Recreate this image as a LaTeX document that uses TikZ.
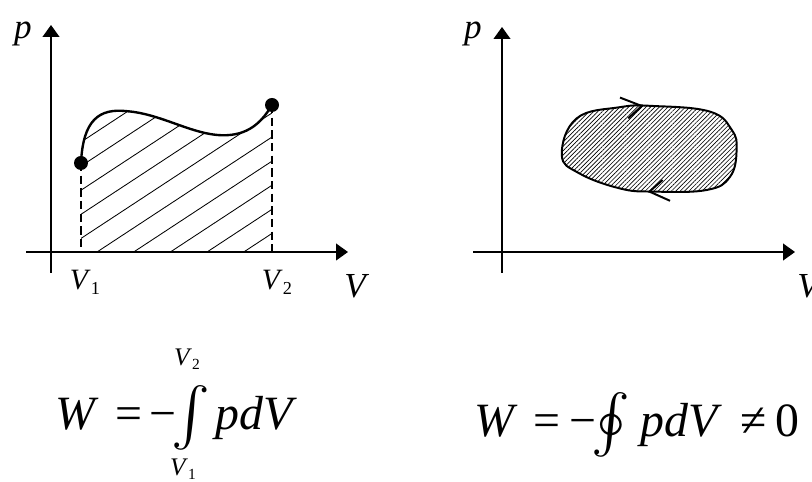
\documentclass[tikz,border=0pt]{standalone}
\usepackage{amsmath}
\usepackage{fontspec}
\setmainfont{Liberation Serif}
\usetikzlibrary{arrows.meta,patterns.meta}

% V with a small subscript: #1 index, #2 size of the index in pt
\newcommand{\Vsub}[2]{\textit{V}\raisebox{-0.35ex}{\fontsize{#2}{#2}\selectfont #1}}
% a tall integral sign: 1.62cm high, 0.5cm of it under the baseline
\newcommand{\tallsign}[1]{\raisebox{-0.5cm}{\resizebox*{!}{1.62cm}{\raisebox{\depth}{#1}}}}

\tikzset{
    axis/.style={line width=1.2pt, -{Triangle[length=3mm,width=4.2mm]}},
    axislabel/.style={font=\fontsize{25}{25}\selectfont\itshape, inner sep=0pt},
    ticklabel/.style={font=\fontsize{21}{21}\selectfont, inner sep=0pt},
    limitlabel/.style={font=\fontsize{18}{18}\selectfont, inner sep=0pt},
    formula/.style={font=\fontsize{34}{34}\selectfont, anchor=base west, inner sep=0pt},
    dot/.style={circle, fill, inner sep=0pt, minimum size=3.5mm},
    guide/.style={line width=1.1pt, dash pattern=on 6pt off 3pt},
    hatch/.style={line width=0.6pt},
    curve/.style={line width=1.7pt},
    chevron/.style={line width=1.4pt},
}

\begin{document}
\begin{tikzpicture}
    \useasboundingbox (-1.275,-5.75) rectangle (19.025,6.3);

    % Đồ thị 1: công là diện tích dưới đường cong
    \draw[axis] (0,-0.525) -- (0,5.675);
    \draw[axis] (-0.625,0) -- (7.425,0);
    \node[axislabel] (p1) at (-0.7,5.45) {p};
    \node[axislabel] (V1ax) at (7.6,-0.85) {V};

    \node[dot] (A) at (0.75,2.225) {};
    \node[dot] (B) at (5.525,3.675) {};
    \coordinate (A0) at (0.75,0);
    \coordinate (B0) at (5.525,0);

    % gạch chéo phần diện tích
    \begin{scope}
        \clip (A.center) .. controls (0.8,3.3) and (1.2,3.6) .. (1.9,3.52)
            .. controls (2.8,3.45) and (3.6,2.88) .. (4.4,2.92)
            .. controls (5.0,2.95) and (5.3,3.3) .. (B.center)
            -- (B0) -- (A0) -- cycle;
        \foreach \k in {-7,...,4}
            \draw[hatch] ({1.15+0.917*\k},0) -- ++(33.3:12);
    \end{scope}

    \draw[curve] (A.center) .. controls (0.8,3.3) and (1.2,3.6) .. (1.9,3.52)
        .. controls (2.8,3.45) and (3.6,2.88) .. (4.4,2.92)
        .. controls (5.0,2.95) and (5.3,3.3) .. (B.center);
    \draw[guide] (A.center) -- (A0);
    \draw[guide] (B.center) -- (B0);

    \node[ticklabel] (lV1) at (0.85,-0.75) {\Vsub{1}{13}};
    \node[ticklabel] (lV2) at (5.65,-0.75) {\Vsub{2}{13}};

    % Đồ thị 2: chu trình kín
    \draw[axis] (11.275,-0.525) -- (11.275,5.625);
    \draw[axis] (10.55,0) -- (18.6,0);
    \node[axislabel] (p2) at (10.55,5.45) {p};
    \node[axislabel] (V2ax) at (18.93,-0.85) {V};

    \draw[curve, line width=1.4pt, pattern={Lines[angle=45,distance=2.2pt,line width=0.45pt]}]
        plot[smooth cycle, tension=0.7] coordinates {
            (12.77,2.425) (13.14,3.34) (14.22,3.62) (15.06,3.65) (16.47,3.51)
            (17.02,3.05) (17.14,2.55) (16.975,1.88) (16.39,1.55) (15.06,1.51)
            (14.22,1.59) (13.2,1.97)};
    % chiều của chu trình
    \draw[chevron] (14.225,3.86) -- (14.77,3.65) -- (14.43,3.34);
    \draw[chevron] (15.475,1.28) -- (14.96,1.51) -- (15.29,1.8);

    % Công thức 1
    \node[formula] (WL)   at (0.1,-4.45)   {\textit{W}};
    \node[formula] (eqL)  at (1.6,-4.45)   {=};
    \node[formula] (mL)   at (2.45,-4.45)  {−};
    \node[formula] (intL) at (3.0,-4.45)   {\tallsign{$\int$}};
    \node[formula] (pdVL) at (4.1,-4.45)   {\textit{pdV}};
    \node[limitlabel] (up) at (3.4,-2.68)  {\Vsub{2}{11}};
    \node[limitlabel] (lo) at (3.3,-5.42)  {\Vsub{1}{11}};

    % Công thức 2
    \node[formula] (WR)   at (10.575,-4.625) {\textit{W}};
    \node[formula] (eqR)  at (12.05,-4.625)  {=};
    \node[formula] (mR)   at (12.95,-4.625)  {−};
    \node[formula] (intR) at (13.5,-4.625)   {\tallsign{$\oint$}};
    \node[formula] (pdVR) at (14.725,-4.625) {\textit{pdV}};
    \node[formula] (neR)  at (17.225,-4.625) {≠};
    \node[formula] (zR)   at (18.1,-4.625)   {0};
\end{tikzpicture}
\end{document}
